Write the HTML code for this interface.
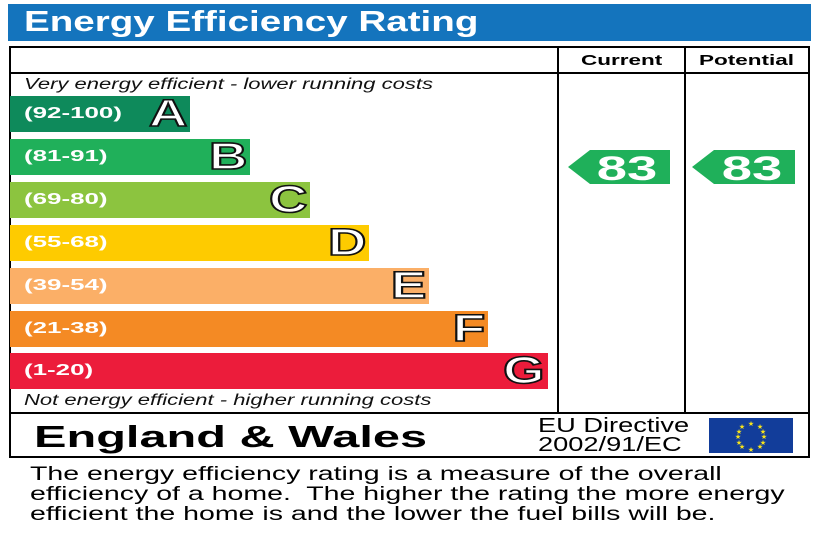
<!DOCTYPE html>
<html><head><style>
body{margin:0;width:820px;height:547px;background:#fff;position:relative;font-family:"Liberation Sans",Arial,sans-serif;overflow:hidden}
div{position:absolute;box-sizing:border-box}
.s{display:inline-block;transform-origin:0 0;white-space:nowrap}
.hd{left:8px;top:4px;width:803px;height:37px;background:#1474bd;color:#fff;font-weight:bold;font-size:29px;padding-left:24px;line-height:37px}
.ln{background:#000}
.bar{left:10px;height:36px;color:#fff;font-weight:bold;font-size:16px;line-height:36px;padding-left:14px}
.bar .L{position:absolute;right:3px;top:-5px;font-size:38px;line-height:46px;color:#fff;-webkit-text-stroke:1.6px #111;font-weight:bold;transform:scaleX(1.4);transform-origin:100% 0}
.it{font-style:italic;font-size:15.5px;color:#111}
.t{font-size:19px;line-height:20px;color:#000}
</style></head><body>
<div class="hd" style="padding-left:16px"><span class="s" style="transform:scaleX(1.33)">Energy Efficiency Rating</span></div>
<div style="left:9px;top:46px;width:801px;height:412px;border:2px solid #000"></div>
<div class="ln" style="left:9px;top:72px;width:801px;height:2px"></div>
<div class="ln" style="left:9px;top:412px;width:801px;height:2px"></div>
<div class="ln" style="left:557px;top:46px;width:2px;height:368px"></div>
<div class="ln" style="left:684px;top:46px;width:2px;height:368px"></div>
<div style="left:581px;top:52px;font-weight:bold;font-size:15px"><span class="s" style="transform:scaleX(1.5)">Current</span></div>
<div style="left:699px;top:52px;font-weight:bold;font-size:15px"><span class="s" style="transform:scaleX(1.5)">Potential</span></div>
<div class="it" style="left:24px;top:76px"><span class="s" style="transform:scaleX(1.42)">Very energy efficient - lower running costs</span></div>
<div class="bar" style="top:96px;width:180px;background:#0e8a5b"><span class="s" style="transform:scaleX(1.62)">(92-100)</span><span class="L">A</span></div>
<div class="bar" style="top:139px;width:240px;background:#20b05a"><span class="s" style="transform:scaleX(1.62)">(81-91)</span><span class="L">B</span></div>
<div class="bar" style="top:182px;width:300px;background:#8cc43f"><span class="s" style="transform:scaleX(1.62)">(69-80)</span><span class="L">C</span></div>
<div class="bar" style="top:225px;width:359px;background:#fecb00"><span class="s" style="transform:scaleX(1.62)">(55-68)</span><span class="L">D</span></div>
<div class="bar" style="top:268px;width:419px;background:#fbaf67"><span class="s" style="transform:scaleX(1.62)">(39-54)</span><span class="L">E</span></div>
<div class="bar" style="top:311px;width:478px;background:#f48a24"><span class="s" style="transform:scaleX(1.62)">(21-38)</span><span class="L">F</span></div>
<div class="bar" style="top:353px;width:538px;background:#ec1c3b"><span class="s" style="transform:scaleX(1.62)">(1-20)</span><span class="L">G</span></div>
<div class="it" style="left:24px;top:392px"><span class="s" style="transform:scaleX(1.42)">Not energy efficient - higher running costs</span></div>
<svg style="position:absolute;left:0;top:0" width="820" height="547">
<polygon points="568,167 590,150 670,150 670,184 590,184" fill="#1fb05a"/>
<polygon points="692,167 714,150 795,150 795,184 714,184" fill="#1fb05a"/>
<text x="0" y="0" transform="translate(627,180) scale(1.6,1)" fill="#fff" font-family="Liberation Sans" font-weight="bold" font-size="34" text-anchor="middle">83</text>
<text x="0" y="0" transform="translate(752,180) scale(1.6,1)" fill="#fff" font-family="Liberation Sans" font-weight="bold" font-size="34" text-anchor="middle">83</text>
<rect x="709" y="418" width="84" height="35" fill="#123d9a"/>
<g fill="#f7e31a" font-size="7" text-anchor="middle" font-family="DejaVu Sans">
<text x="751" y="426">★</text><text x="751" y="452">★</text><text x="738" y="439">★</text><text x="764" y="439">★</text>
<text x="742" y="429">★</text><text x="760" y="429">★</text><text x="742" y="449">★</text><text x="760" y="449">★</text>
<text x="739" y="434">★</text><text x="763" y="434">★</text><text x="739" y="445">★</text><text x="763" y="445">★</text>
</g>
</svg>
<div style="left:34px;top:418px;font-weight:bold;font-size:31px;line-height:38px"><span class="s" style="transform:scaleX(1.57)">England &amp; Wales</span></div>
<div style="left:538px;top:417px;font-size:20px;line-height:19px"><span class="s" style="transform:scaleX(1.36)">EU Directive<br>2002/91/EC</span></div>
<div class="t" style="left:30px;top:465px"><span class="s" style="transform:scaleX(1.5)">The energy efficiency rating is a measure of the overall<br>efficiency of a home.&nbsp; The higher the rating the more energy<br>efficient the home is and the lower the fuel bills will be.</span></div>
</body></html>
